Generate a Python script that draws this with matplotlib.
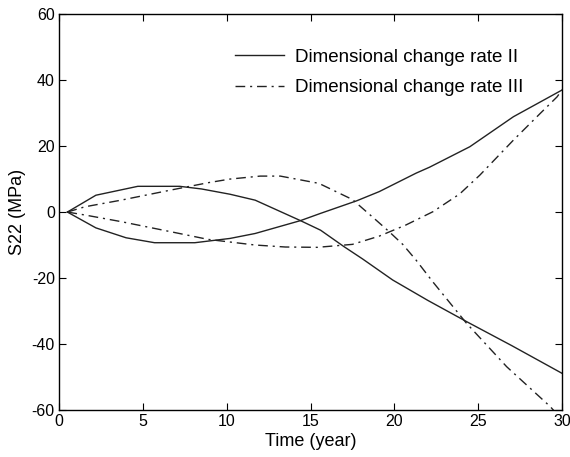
import numpy as np
import matplotlib
matplotlib.use('Agg')
from matplotlib import pyplot as plt

plt.rcParams['font.family'] = ['Liberation Sans', 'DejaVu Sans']
plt.rcParams['axes.unicode_minus'] = False

# solid curves (Dimensional change rate II)
t_a = [0.5, 2.2, 4.7, 7.2, 8.5, 10.2, 11.7, 14.4, 15.6, 17.0, 18.1, 19.9, 22.0, 24.3, 27.0, 30.0]
s_a = [0, 5.1, 7.8, 7.8, 7.0, 5.4, 3.6, -2.6, -5.5, -10.5, -14.2, -20.6, -26.8, -33.2, -40.5, -48.9]

t_b = [0.5, 2.2, 4.0, 5.7, 8.1, 10.2, 11.7, 14.4, 15.6, 17.75, 19.1, 21.3, 22.1, 24.5, 27.1, 30.0]
s_b = [0, -4.8, -7.8, -9.3, -9.3, -8.0, -6.5, -2.6, -0.4, 3.4, 6.2, 11.8, 13.6, 19.8, 28.9, 37.0]

# dash-dot curves (Dimensional change rate III)
t_c = [0.5, 1.55, 3.7, 6.7, 8.9, 10.2, 12.0, 13.2, 15.5, 17.5, 18.9, 19.7, 20.5, 21.3, 22.3, 24.3, 26.7, 29.3, 30.0]
s_c = [0, 1.6, 3.6, 6.7, 8.9, 10.0, 10.9, 10.9, 8.7, 3.8, -2.4, -6.0, -9.8, -14.6, -21.2, -33.7, -46.9, -59.0, -63.0]

t_d = [0.5, 1.55, 3.7, 6.7, 8.9, 11.7, 13.5, 15.4, 17.5, 19.1, 20.7, 22.3, 23.9, 25.1, 27.1, 28.7, 29.7, 30.0]
s_d = [0, -0.9, -2.9, -6.0, -8.3, -10.0, -10.6, -10.7, -9.8, -7.3, -3.9, 0.1, 5.5, 11.2, 21.8, 29.9, 34.9, 37.0]

xticks = [0, 5, 10, 15, 20, 25, 30]
yticks = [-60, -40, -20, 0, 20, 40, 60]

fig = plt.figure(figsize=(5.7, 4.57), dpi=100)
ax = fig.add_axes([0.1035, 0.103, 0.8825, 0.866])

dashdot = (0, (7, 3.5, 1.5, 3.5))
ax.plot(t_a, s_a, color='#222222', lw=1.0, ls='-', label='Dimensional change rate II')
ax.plot(t_b, s_b, color='#222222', lw=1.0, ls='-')
ax.plot(t_c, s_c, color='#222222', lw=1.0, ls=dashdot, label='Dimensional change rate III')
ax.plot(t_d, s_d, color='#222222', lw=1.0, ls=dashdot)

ax.set_xlim(0, 30)
ax.set_ylim(-60, 60)
ax.set_xticks(xticks)
ax.set_yticks(yticks)
ax.tick_params(direction='in', top=True, right=True, length=5, labelsize=11.5, pad=3)
for s in ax.spines.values():
    s.set_linewidth(1.0)

ax.set_xlabel('Time (year)', fontsize=13, labelpad=3)
ax.set_ylabel('S22 (MPa)', fontsize=13, labelpad=4)

ax.legend(loc='upper left', frameon=False, fontsize=13.5, handlelength=2.6,
          handletextpad=0.6, labelspacing=0.72, borderpad=0, borderaxespad=0,
          bbox_to_anchor=(0.35, 0.913))

fig.savefig('out.png', dpi=100)
